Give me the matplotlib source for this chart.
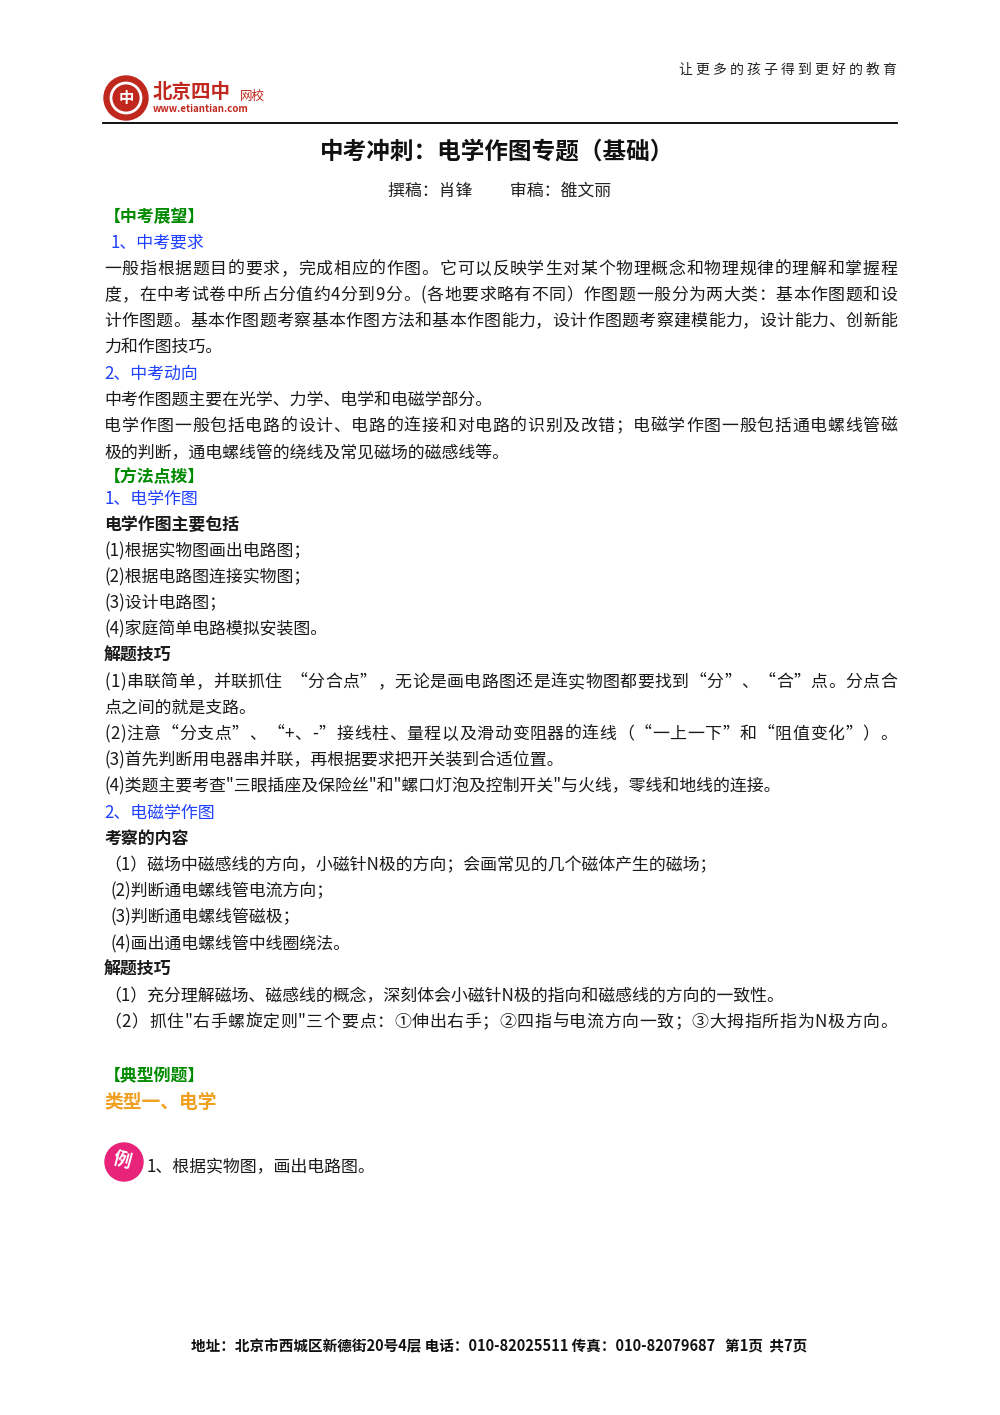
import matplotlib
matplotlib.use("Agg")
import matplotlib.pyplot as plt
from matplotlib.patches import Circle, Ellipse

plt.rcParams['font.family'] = ['Noto Sans CJK SC', 'DejaVu Sans']

W, H = 1000, 1415
header_slogan = "让更多的孩子得到更好的教育"
title = "中考冲刺：电学作图专题（基础）"
authors = "撰稿：肖锋          审稿：雒文丽"
# (y_pixel, x_pixel, text, style, justify)
lines = [
    (217, 104, "【中考展望】", "green", False),
    (243, 110, "1、中考要求", "blue", False),
    (269, 104, "一般指根据题目的要求，完成相应的作图。它可以反映学生对某个物理概念和物理规律的理解和掌握程", "body", True),
    (295, 104, "度，在中考试卷中所占分值约4分到9分。(各地要求略有不同）作图题一般分为两大类：基本作图题和设", "body", True),
    (321, 104, "计作图题。基本作图题考察基本作图方法和基本作图能力，设计作图题考察建模能力，设计能力、创新能", "body", True),
    (347, 104, "力和作图技巧。", "body", False),
    (374, 104, "2、中考动向", "blue", False),
    (400, 104, "中考作图题主要在光学、力学、电学和电磁学部分。", "body", False),
    (426, 104, "电学作图一般包括电路的设计、电路的连接和对电路的识别及改错；电磁学作图一般包括通电螺线管磁", "body", True),
    (453, 104, "极的判断，通电螺线管的绕线及常见磁场的磁感线等。", "body", False),
    (477, 104, "【方法点拨】", "green", False),
    (499, 104, "1、电学作图", "blue", False),
    (525, 104, "电学作图主要包括", "bold", False),
    (551, 104, "(1)根据实物图画出电路图；", "body", False),
    (577, 104, "(2)根据电路图连接实物图；", "body", False),
    (603, 104, "(3)设计电路图；", "body", False),
    (629, 104, "(4)家庭简单电路模拟安装图。", "body", False),
    (656, 104, "解题技巧", "bold", False),
    (682, 104, "(1)串联简单，并联抓住  “分合点”，无论是画电路图还是连实物图都要找到“分”、“合”点。分点合", "body", True),
    (708, 104, "点之间的就是支路。", "body", False),
    (734, 104, "(2)注意“分支点”、“+、-”接线柱、量程以及滑动变阻器的连线（“一上一下”和“阻值变化”）。", "body", True),
    (760, 104, "(3)首先判断用电器串并联，再根据要求把开关装到合适位置。", "body", False),
    (786, 104, "(4)类题主要考查\"三眼插座及保险丝\"和\"螺口灯泡及控制开关\"与火线，零线和地线的连接。", "body", False),
    (813, 104, "2、电磁学作图", "blue", False),
    (839, 104, "考察的内容", "bold", False),
    (865, 104, "（1）磁场中磁感线的方向，小磁针N极的方向；会画常见的几个磁体产生的磁场；", "body", False),
    (891, 110, "(2)判断通电螺线管电流方向；", "body", False),
    (917, 110, "(3)判断通电螺线管磁极；", "body", False),
    (944, 110, "(4)画出通电螺线管中线圈绕法。", "body", False),
    (970, 104, "解题技巧", "bold", False),
    (996, 104, "（1）充分理解磁场、磁感线的概念，深刻体会小磁针N极的指向和磁感线的方向的一致性。", "body", False),
    (1022, 104, "（2）抓住\"右手螺旋定则\"三个要点：①伸出右手；②四指与电流方向一致；③大拇指所指为N极方向。", "body", True),
    (1076, 104, "【典型例题】", "green", False),
    (1102, 104, "类型一、电学", "orange", False),
    (1167, 146, "1、根据实物图，画出电路图。", "body", False),
]
footer = "地址：北京市西城区新德街20号4层 电话：010-82025511 传真：010-82079687   第1页  共7页"

styles = {
    "body": dict(color="#1a1a1a", fontsize=12.2),
    "bold": dict(color="#1a1a1a", fontsize=12.2, fontweight="bold"),
    "green": dict(color="#008a00", fontsize=12.2, fontweight="bold"),
    "blue": dict(color="#2040ff", fontsize=12.2),
    "orange": dict(color="#f0a020", fontsize=13.5, fontweight="bold"),
}
RIGHT = 897

fig = plt.figure(figsize=(10, 14.15), dpi=100)
fig.patch.set_facecolor("white")
ax = fig.add_axes([0, 0, 1, 1])
ax.set_xlim(0, W); ax.set_ylim(H, 0); ax.axis("off")
renderer = fig.canvas.get_renderer()

def char_width(ch, st):
    t = ax.text(0, 0, ch, **st)
    w = t.get_window_extent(renderer).width
    t.remove()
    return w

# header
ax.text(897, 70, " ".join(header_slogan), ha="right", va="center", fontsize=10, color="#222")
ax.plot([103, 897], [123, 123], color="black", lw=1.3)
ax.add_patch(Circle((126, 98), 22, color="#c0281e"))
ax.add_patch(Circle((126, 98), 15, fill=False, ec="white", lw=2))
ax.text(126, 98, "中", ha="center", va="center", color="white", fontsize=11, fontweight="bold")
ax.text(153, 93, "北京四中", ha="left", va="center", color="#c0281e", fontsize=14, fontweight="bold", style="italic")
ax.text(240, 96, "网校", ha="left", va="center", color="#c0281e", fontsize=9)
ax.text(153, 109, "www.etiantian.com", ha="left", va="center", color="#c0281e", fontsize=7, fontweight="bold")

ax.text(497, 152, title, ha="center", va="center", fontsize=17, fontweight="bold", color="#111")
ax.text(500, 191, authors, ha="center", va="center", fontsize=12.2, color="#222")

for y, x, t, s, just in lines:
    st = styles[s]
    if not just:
        ax.text(x, y, t, ha="left", va="center", **st)
        continue
    widths = [char_width(c, st) for c in t]
    gap = (RIGHT - x - sum(widths)) / max(len(t) - 1, 1)
    cx = x
    for c, w in zip(t, widths):
        ax.text(cx, y, c, ha="left", va="center", **st)
        cx += w + gap

# example badge
ax.add_patch(Ellipse((124, 1162), 38, 38, color="#e8237a"))
ax.text(122, 1160, "例", ha="center", va="center", color="white", fontsize=13, fontweight="bold", rotation=-15)

ax.text(499, 1346, footer, ha="center", va="center", fontsize=10.5, fontweight="bold", color="#111")

fig.savefig("out.png", dpi=100, facecolor="white")
